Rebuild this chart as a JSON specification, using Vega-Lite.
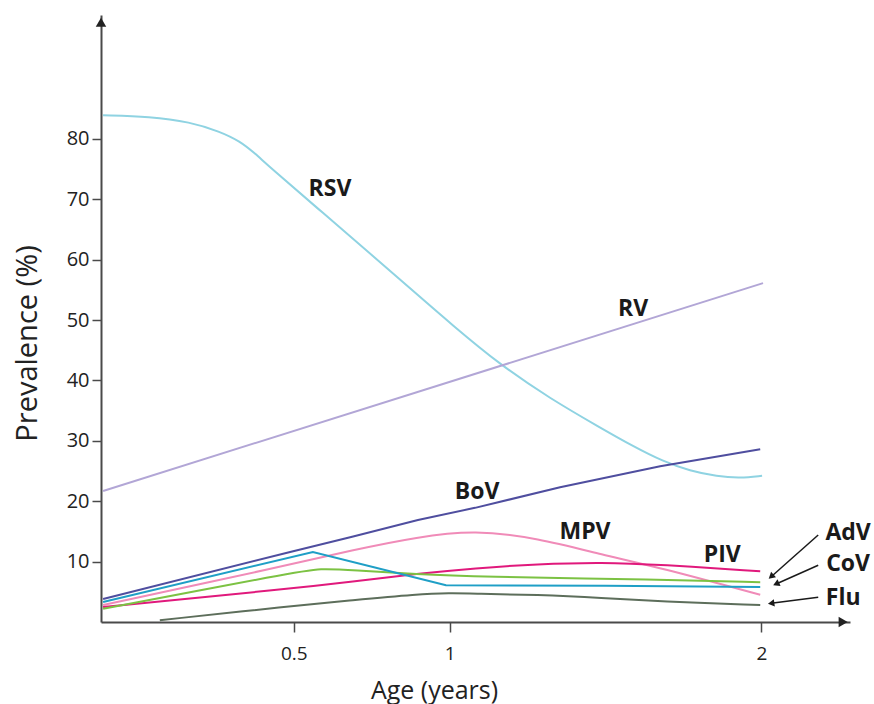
{
  "$schema": "https://vega.github.io/schema/vega-lite/v6.json",
  "width": 749,
  "height": 607,
  "autosize": {"type": "none"},
  "padding": {"left": 101, "top": 15, "right": 24, "bottom": 82},
  "background": "white",
  "config": {"view": {"stroke": null}, "font": "Open Sans"},
  "datasets": {
    "series": [
      {"series": "RSV", "x": -0.112, "y": 83.9},
      {"series": "RSV", "x": 0.038, "y": 83.7},
      {"series": "RSV", "x": 0.167, "y": 82.8},
      {"series": "RSV", "x": 0.263, "y": 81.2},
      {"series": "RSV", "x": 0.327, "y": 79.6},
      {"series": "RSV", "x": 0.375, "y": 77.6},
      {"series": "RSV", "x": 0.423, "y": 75.3},
      {"series": "RSV", "x": 0.594, "y": 67.7},
      {"series": "RSV", "x": 0.754, "y": 60.6},
      {"series": "RSV", "x": 0.905, "y": 53.8},
      {"series": "RSV", "x": 1.001, "y": 49.5},
      {"series": "RSV", "x": 1.161, "y": 42.6},
      {"series": "RSV", "x": 1.322, "y": 37.0},
      {"series": "RSV", "x": 1.482, "y": 32.2},
      {"series": "RSV", "x": 1.588, "y": 29.1},
      {"series": "RSV", "x": 1.684, "y": 26.6},
      {"series": "RSV", "x": 1.771, "y": 25.0},
      {"series": "RSV", "x": 1.858, "y": 24.1},
      {"series": "RSV", "x": 1.931, "y": 23.8},
      {"series": "RSV", "x": 2.002, "y": 24.2},
      {"series": "RV", "x": -0.112, "y": 21.7},
      {"series": "RV", "x": 2.005, "y": 56.1},
      {"series": "BoV", "x": -0.112, "y": 3.8},
      {"series": "BoV", "x": 0.488, "y": 11.6},
      {"series": "BoV", "x": 0.687, "y": 14.1},
      {"series": "BoV", "x": 0.898, "y": 16.9},
      {"series": "BoV", "x": 1.081, "y": 18.9},
      {"series": "BoV", "x": 1.354, "y": 22.3},
      {"series": "BoV", "x": 1.675, "y": 25.8},
      {"series": "BoV", "x": 1.996, "y": 28.6},
      {"series": "MPV", "x": -0.112, "y": 2.8},
      {"series": "MPV", "x": 0.472, "y": 9.3},
      {"series": "MPV", "x": 0.687, "y": 11.9},
      {"series": "MPV", "x": 0.898, "y": 14.1},
      {"series": "MPV", "x": 1.081, "y": 15.2},
      {"series": "MPV", "x": 1.28, "y": 13.9},
      {"series": "MPV", "x": 1.492, "y": 11.1},
      {"series": "MPV", "x": 1.675, "y": 9.0},
      {"series": "MPV", "x": 1.996, "y": 4.5},
      {"series": "PIV", "x": -0.112, "y": 2.5},
      {"series": "PIV", "x": 0.488, "y": 5.5},
      {"series": "PIV", "x": 0.687, "y": 6.7},
      {"series": "PIV", "x": 0.898, "y": 8.0},
      {"series": "PIV", "x": 1.081, "y": 8.9},
      {"series": "PIV", "x": 1.28, "y": 9.6},
      {"series": "PIV", "x": 1.49, "y": 9.9},
      {"series": "PIV", "x": 1.675, "y": 9.5},
      {"series": "PIV", "x": 1.996, "y": 8.4},
      {"series": "AdV", "x": -0.112, "y": 2.2},
      {"series": "AdV", "x": 0.5, "y": 8.2},
      {"series": "AdV", "x": 0.584, "y": 8.9},
      {"series": "AdV", "x": 0.687, "y": 8.6},
      {"series": "AdV", "x": 0.898, "y": 7.9},
      {"series": "AdV", "x": 1.081, "y": 7.5},
      {"series": "AdV", "x": 1.675, "y": 7.0},
      {"series": "AdV", "x": 1.996, "y": 6.6},
      {"series": "CoV", "x": -0.112, "y": 3.3},
      {"series": "CoV", "x": 0.561, "y": 11.6},
      {"series": "CoV", "x": 0.988, "y": 6.1},
      {"series": "CoV", "x": 1.5, "y": 6.0},
      {"series": "CoV", "x": 1.996, "y": 5.8},
      {"series": "Flu", "x": 0.07, "y": 0.3},
      {"series": "Flu", "x": 0.488, "y": 2.6},
      {"series": "Flu", "x": 0.687, "y": 3.6},
      {"series": "Flu", "x": 0.898, "y": 4.6},
      {"series": "Flu", "x": 1.0, "y": 4.8},
      {"series": "Flu", "x": 1.081, "y": 4.7},
      {"series": "Flu", "x": 1.28, "y": 4.5},
      {"series": "Flu", "x": 1.49, "y": 4.0},
      {"series": "Flu", "x": 1.675, "y": 3.4},
      {"series": "Flu", "x": 1.996, "y": 2.8}
    ],
    "labels": [
      {"label": "RSV", "x": 0.616, "y": 71.7},
      {"label": "RV", "x": 1.588, "y": 51.8},
      {"label": "BoV", "x": 1.088, "y": 21.5},
      {"label": "MPV", "x": 1.434, "y": 14.9},
      {"label": "PIV", "x": 1.874, "y": 11.1},
      {"label": "AdV", "x": 2.278, "y": 14.7},
      {"label": "CoV", "x": 2.278, "y": 9.6},
      {"label": "Flu", "x": 2.262, "y": 4.0}
    ],
    "arrows": [
      {"label": "AdV", "x": 2.182, "y": 14.4, "x2": 2.031, "y2": 7.5},
      {"label": "CoV", "x": 2.182, "y": 9.4, "x2": 2.047, "y2": 6.3},
      {"label": "Flu", "x": 2.182, "y": 4.1, "x2": 2.031, "y2": 3.1}
    ],
    "heads": [
      {"label": "AdV", "x": 2.031, "y": 7.5},
      {"label": "CoV", "x": 2.047, "y": 6.3},
      {"label": "Flu", "x": 2.031, "y": 3.1}
    ],
    "axisEnds": [
      {"axis": "y", "x": -0.1187, "y": 99.3},
      {"axis": "x", "x": 2.262, "y": 0}
    ]
  },
  "encoding": {
    "x": {
      "field": "x",
      "type": "quantitative",
      "title": "Age (years)",
      "scale": {"domain": [-0.1187, 2.284], "nice": false, "zero": false},
      "axis": {
        "values": [0.5, 1, 2],
        "format": "~g",
        "grid": false,
        "domainColor": "#4a4a4a",
        "domainWidth": 2,
        "tickColor": "#4a4a4a",
        "tickWidth": 1.5,
        "tickSize": 10,
        "labelFontSize": 19,
        "labelColor": "#222",
        "labelPadding": 12,
        "labelFlush": false,
        "titleFontSize": 25,
        "titleFontWeight": "normal",
        "titleColor": "#222",
        "titleX": 333,
        "titleY": 76,
        "titleBaseline": "alphabetic"
      }
    },
    "y": {
      "field": "y",
      "type": "quantitative",
      "title": "Prevalence (%)",
      "scale": {"domain": [0, 100.5], "nice": false, "zero": false},
      "axis": {
        "values": [10, 20, 30, 40, 50, 60, 70, 80],
        "grid": false,
        "domainColor": "#4a4a4a",
        "domainWidth": 2,
        "tickColor": "#4a4a4a",
        "tickWidth": 1.5,
        "tickSize": 9,
        "labelFontSize": 20,
        "labelColor": "#222",
        "labelPadding": 3,
        "titleFontSize": 29,
        "titleFontWeight": "normal",
        "titleColor": "#222",
        "titleX": -74,
        "titleY": 328,
        "titleAngle": -90,
        "titleAlign": "center",
        "titleBaseline": "middle"
      }
    }
  },
  "layer": [
    {
      "data": {"name": "series"},
      "transform": [{"filter": {"field": "series", "oneOf": ["RSV", "MPV", "PIV", "AdV", "Flu"]}}],
      "mark": {"type": "line", "strokeWidth": 2, "interpolate": "basis"},
      "encoding": {
        "color": {
          "field": "series",
          "type": "nominal",
          "legend": null,
          "scale": {
            "domain": ["RSV", "RV", "BoV", "MPV", "PIV", "AdV", "CoV", "Flu"],
            "range": ["#8fd3e2", "#b2a6d6", "#4f4e9f", "#f08bb8", "#e0197c", "#7cc243", "#1f9fc6", "#5d6e5b"]
          }
        },
        "detail": {"field": "series"}
      }
    },
    {
      "data": {"name": "series"},
      "transform": [{"filter": {"field": "series", "oneOf": ["RV", "BoV", "CoV"]}}],
      "mark": {"type": "line", "strokeWidth": 2, "interpolate": "linear"},
      "encoding": {
        "color": {
          "field": "series",
          "type": "nominal",
          "legend": null,
          "scale": {
            "domain": ["RSV", "RV", "BoV", "MPV", "PIV", "AdV", "CoV", "Flu"],
            "range": ["#8fd3e2", "#b2a6d6", "#4f4e9f", "#f08bb8", "#e0197c", "#7cc243", "#1f9fc6", "#5d6e5b"]
          }
        },
        "detail": {"field": "series"}
      }
    },
    {
      "data": {"name": "labels"},
      "mark": {"type": "text", "fontSize": 23, "fontWeight": "bold", "color": "#1a1a1a", "align": "center", "baseline": "middle"},
      "encoding": {"text": {"field": "label"}}
    },
    {
      "data": {"name": "arrows"},
      "mark": {"type": "rule", "color": "#1a1a1a", "strokeWidth": 1.5},
      "encoding": {"x2": {"field": "x2"}, "y2": {"field": "y2"}}
    },
    {
      "data": {"name": "heads"},
      "transform": [{"filter": "datum.label == 'AdV'"}],
      "mark": {"type": "point", "shape": "triangle-up", "filled": true, "size": 55, "angle": 228.6, "color": "#1a1a1a", "opacity": 1},
      "encoding": {}
    },
    {
      "data": {"name": "heads"},
      "transform": [{"filter": "datum.label == 'CoV'"}],
      "mark": {"type": "point", "shape": "triangle-up", "filled": true, "size": 55, "angle": 245.9, "color": "#1a1a1a", "opacity": 1},
      "encoding": {}
    },
    {
      "data": {"name": "heads"},
      "transform": [{"filter": "datum.label == 'Flu'"}],
      "mark": {"type": "point", "shape": "triangle-up", "filled": true, "size": 55, "angle": 262.3, "color": "#1a1a1a", "opacity": 1},
      "encoding": {}
    },
    {
      "data": {"name": "axisEnds"},
      "transform": [{"filter": "datum.axis == 'y'"}],
      "mark": {"type": "point", "shape": "triangle-up", "filled": true, "size": 110, "color": "#222", "opacity": 1},
      "encoding": {}
    },
    {
      "data": {"name": "axisEnds"},
      "transform": [{"filter": "datum.axis == 'x'"}],
      "mark": {"type": "point", "shape": "triangle-right", "filled": true, "size": 110, "color": "#222", "opacity": 1},
      "encoding": {}
    }
  ]
}
